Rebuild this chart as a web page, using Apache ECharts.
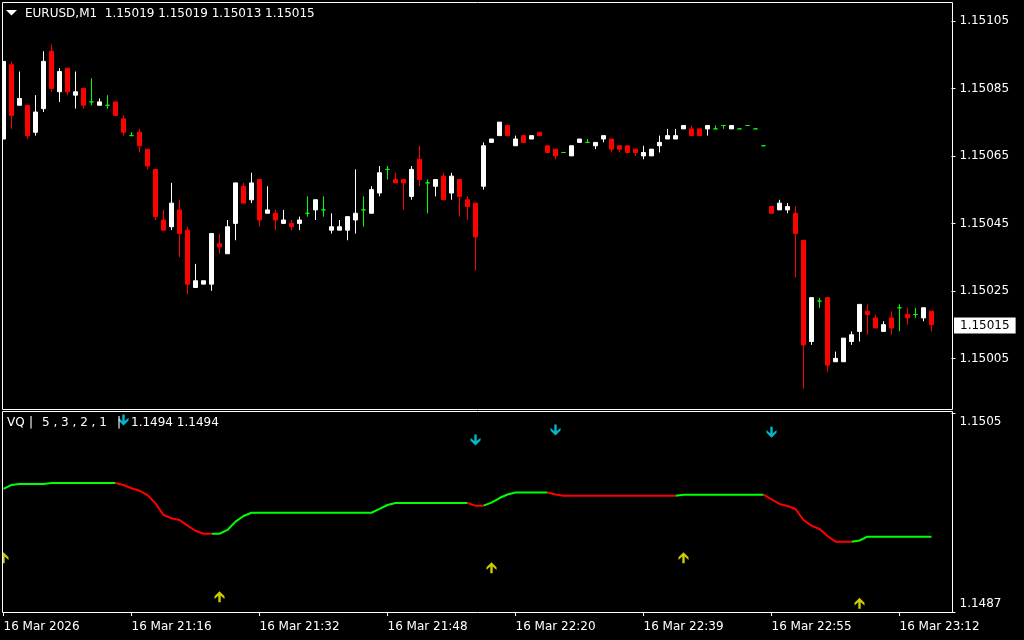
<!DOCTYPE html>
<html><head><meta charset="utf-8">
<script src="https://cdn.jsdelivr.net/npm/echarts@6/dist/echarts.min.js"></script>
<style>html,body{margin:0;padding:0;background:#000;}#c{width:1024px;height:640px;}</style>
</head><body><div id="c"></div>
<script>
const symbolName = 'EURUSD,M1';
const opens = [1.15070,1.15092,1.15080,1.15080,1.15072,1.15079,1.15096,1.15084,1.15091,1.15083,
 1.15085,1.15081,1.15080,1.15080,1.15081,1.15076,1.15071,1.15072,1.15067,1.15061,
 1.15046,1.15044,1.15049,1.15043,1.15026,1.15027,1.15027,1.15039,1.15036,1.15045,
 1.15056,1.15052,1.15058,1.15048,1.15048,1.15045,1.15045,1.15045,1.15048,1.15049,
 1.15049,1.15043,1.15043,1.15043,1.15046,1.15049,1.15048,1.15054,1.15061,1.15058,
 1.15058,1.15053,1.15064,1.15057,1.15056,1.15059,1.15054,1.15058,1.15052,1.15051,
 1.15056,1.15069,1.15071,1.15074,1.15068,1.15071,1.15070,1.15072,1.15068,1.15067,
 1.15066,1.15065,1.15069,1.15069,1.15068,1.15070,1.15070,1.15068,1.15068,1.15067,
 1.15065,1.15065,1.15068,1.15070,1.15070,1.15073,1.15073,1.15073,1.15073,1.15073,
 1.15074,1.15073,1.15073,1.15074,1.15073,1.15068,1.15050,1.15049,1.15049,1.15048,
 1.15040,1.15010,1.15022,1.15023,1.15004,1.15004,1.15010,1.15013,1.15019,1.15017,
 1.15013,1.15017,1.15020,1.15018,1.15018,1.15017,1.15019];
const highs = [1.15093,1.15093,1.15090,1.15080,1.15083,1.15096,1.15098,1.15091,1.15091,1.15090,
 1.15085,1.15088,1.15082,1.15083,1.15081,1.15077,1.15072,1.15073,1.15067,1.15061,
 1.15049,1.15057,1.15052,1.15044,1.15033,1.15028,1.15042,1.15042,1.15046,1.15057,
 1.15057,1.15060,1.15058,1.15056,1.15049,1.15049,1.15046,1.15047,1.15053,1.15052,
 1.15053,1.15048,1.15046,1.15047,1.15061,1.15053,1.15056,1.15062,1.15062,1.15060,
 1.15058,1.15062,1.15068,1.15058,1.15058,1.15060,1.15060,1.15058,1.15053,1.15051,
 1.15069,1.15070,1.15075,1.15074,1.15071,1.15071,1.15071,1.15072,1.15068,1.15067,
 1.15066,1.15068,1.15070,1.15070,1.15069,1.15071,1.15070,1.15068,1.15068,1.15067,
 1.15068,1.15067,1.15071,1.15073,1.15073,1.15074,1.15074,1.15073,1.15074,1.15074,
 1.15074,1.15074,1.15073,1.15074,1.15073,1.15068,1.15050,1.15052,1.15051,1.15050,
 1.15040,1.15023,1.15023,1.15023,1.15007,1.15011,1.15013,1.15021,1.15021,1.15018,
 1.15016,1.15019,1.15021,1.15020,1.15020,1.15020,1.15019];
const lows = [1.15070,1.15073,1.15080,1.15070,1.15071,1.15078,1.15084,1.15081,1.15083,1.15079,
 1.15079,1.15080,1.15080,1.15079,1.15077,1.15071,1.15071,1.15066,1.15061,1.15046,
 1.15043,1.15043,1.15035,1.15024,1.15026,1.15027,1.15025,1.15036,1.15036,1.15040,
 1.15051,1.15051,1.15044,1.15048,1.15043,1.15045,1.15043,1.15043,1.15047,1.15046,
 1.15047,1.15042,1.15043,1.15040,1.15042,1.15044,1.15048,1.15053,1.15058,1.15057,
 1.15049,1.15052,1.15056,1.15048,1.15053,1.15052,1.15052,1.15047,1.15046,1.15031,
 1.15055,1.15069,1.15071,1.15071,1.15068,1.15069,1.15070,1.15071,1.15066,1.15064,
 1.15066,1.15065,1.15069,1.15069,1.15067,1.15069,1.15066,1.15066,1.15066,1.15065,
 1.15064,1.15065,1.15066,1.15070,1.15070,1.15073,1.15071,1.15071,1.15071,1.15073,
 1.15073,1.15073,1.15073,1.15074,1.15073,1.15068,1.15048,1.15049,1.15048,1.15029,
 1.14996,1.15009,1.15020,1.15001,1.15004,1.15004,1.15009,1.15010,1.15012,1.15014,
 1.15013,1.15012,1.15013,1.15015,1.15017,1.15016,1.15013];
const closes = [1.15093,1.15077,1.15082,1.15071,1.15078,1.15093,1.15085,1.15090,1.15084,1.15084,
 1.15080,1.15081,1.15081,1.15080,1.15077,1.15072,1.15071,1.15068,1.15062,1.15047,
 1.15043,1.15051,1.15042,1.15027,1.15028,1.15028,1.15042,1.15038,1.15044,1.15057,
 1.15051,1.15057,1.15046,1.15049,1.15046,1.15046,1.15044,1.15046,1.15048,1.15052,
 1.15049,1.15044,1.15044,1.15047,1.15048,1.15049,1.15055,1.15060,1.15061,1.15057,
 1.15057,1.15061,1.15058,1.15057,1.15058,1.15052,1.15059,1.15053,1.15050,1.15041,
 1.15068,1.15070,1.15075,1.15071,1.15070,1.15069,1.15071,1.15071,1.15066,1.15065,
 1.15066,1.15068,1.15070,1.15069,1.15069,1.15071,1.15067,1.15067,1.15066,1.15066,
 1.15066,1.15067,1.15069,1.15071,1.15071,1.15074,1.15071,1.15071,1.15074,1.15073,
 1.15074,1.15074,1.15073,1.15074,1.15073,1.15068,1.15048,1.15051,1.15050,1.15042,
 1.15009,1.15023,1.15022,1.15003,1.15005,1.15011,1.15012,1.15021,1.15018,1.15014,
 1.15015,1.15014,1.15020,1.15017,1.15018,1.15020,1.15015];

const vqValues = [1.149813,1.149849,1.149858,1.149858,1.149858,1.149858,1.149867,1.149867,1.149867,1.149867,
 1.149867,1.149867,1.149867,1.149867,1.149867,1.149849,1.149819,1.149797,1.149758,1.149683,
 1.149577,1.149548,1.149532,1.149481,1.149435,1.149408,1.149408,1.149408,1.149442,1.149517,
 1.149568,1.149598,1.149598,1.149598,1.149598,1.149598,1.149598,1.149598,1.149598,1.149598,
 1.149598,1.149598,1.149598,1.149598,1.149598,1.149598,1.149598,1.149632,1.149668,1.149686,
 1.149686,1.149686,1.149686,1.149686,1.149686,1.149686,1.149686,1.149686,1.149686,1.149662,
 1.149662,1.149689,1.149731,1.149763,1.149781,1.149781,1.149781,1.149781,1.149781,1.149763,
 1.149752,1.149752,1.149752,1.149752,1.149752,1.149752,1.149752,1.149752,1.149752,1.149752,
 1.149752,1.149752,1.149752,1.149752,1.149752,1.149761,1.149761,1.149761,1.149761,1.149761,
 1.149761,1.149761,1.149761,1.149761,1.149761,1.149761,1.149718,1.149677,1.149659,1.149632,
 1.149532,1.149481,1.149451,1.149387,1.149336,1.149336,1.149336,1.149347,1.149381,1.149381,
 1.149381,1.149381,1.149381,1.149381,1.149381,1.149381,1.149381];
// 1 = rising (green), -1 = falling (red); colours the segment ending at that bar
const vqTrend = [1,1,1,1,1,1,1,1,1,1, 1,1,1,1,1,-1,-1,-1,-1,-1,
 -1,-1,-1,-1,-1,-1,-1,1,1,1, 1,1,1,1,1,1,1,1,1,1,
 1,1,1,1,1,1,1,1,1,1, 1,1,1,1,1,1,1,1,1,-1,
 -1,1,1,1,1,1,1,1,1,-1, -1,-1,-1,-1,-1,-1,-1,-1,-1,-1,
 -1,-1,-1,-1,-1,1,1,1,1,1, 1,1,1,1,1,1,-1,-1,-1,-1,
 -1,-1,-1,-1,-1,-1,-1,1,1,1, 1,1,1,1,1,1,1];
const upArrows = [[0,1.149191],[27,1.148838],[61,1.149101],[85,1.149191],[107,1.148779]];
const downArrows = [[15,1.150437],[59,1.150256],[69,1.150346],[96,1.150325]];
const priceTicks = [1.15005,1.15025,1.15045,1.15065,1.15085,1.15105];
const vqTicks = [1.1487,1.1505];
const timeLabels = ['16 Mar 2026','16 Mar 21:16','16 Mar 21:32','16 Mar 21:48','16 Mar 22:20','16 Mar 22:39','16 Mar 22:55','16 Mar 23:12'];
const vqName = 'VQ';
const vqParams = '5 , 3 , 2 , 1';

const FONT = '"DejaVu Sans", Verdana, sans-serif';
const N = opens.length;
const cats = [];
for (let i = 0; i < N + 2; i++) cats.push(String(i));
const candleData = opens.map((o, i) => {
  const item = { value: [o, closes[i], lows[i], highs[i]] };
  if (o === closes[i]) item.itemStyle = { color: '#00ff00', color0: '#00ff00', borderColor: '#00ff00', borderColor0: '#00ff00' };
  return item;
});
const vqGreen = vqValues.map((v, i) => (vqTrend[i] === 1 || vqTrend[i + 1] === 1) ? v : null);
const vqRed = vqValues.map((v, i) => (vqTrend[i] === -1 || vqTrend[i + 1] === -1) ? v : null);
const last = N - 1;
const lastClose = closes[last];
const titleText = symbolName + '  ' + [opens[last], highs[last], lows[last], closes[last]].map(v => v.toFixed(5)).join(' ');
const vqLast = vqValues[last].toFixed(4);

const UP_PATH = 'path://M5,0 L10,5 L10,7.8 L6.2,4.4 L6.2,11 L3.8,11 L3.8,4.4 L0,7.8 L0,5 Z';
const DOWN_PATH = 'path://M5,11 L10,6 L10,3.2 L6.2,6.6 L6.2,0 L3.8,0 L3.8,6.6 L0,3.2 L0,6 Z';

const baseGraphic = [
  { type: 'rect', z: 100, shape: { x: 0, y: 0, width: 2, height: 640 }, style: { fill: '#000000' } },
  { type: 'rect', z: 101, shape: { x: 2.5, y: 2.5, width: 950, height: 407 }, style: { fill: null, stroke: '#ffffff', lineWidth: 1 } },
  { type: 'rect', z: 101, shape: { x: 2.5, y: 411.5, width: 950, height: 201 }, style: { fill: null, stroke: '#ffffff', lineWidth: 1 } },
  { type: 'polygon', z: 101, shape: { points: [[6, 10], [17, 10], [11.5, 15.5]] }, style: { fill: '#ffffff' } },
  { type: 'text', z: 101, x: 25, y: 14, style: { text: titleText, fill: '#ffffff', font: '12px ' + FONT, verticalAlign: 'middle' } },
  { type: 'text', z: 101, x: 7, y: 423, style: { text: vqName, fill: '#ffffff', font: '12px ' + FONT, verticalAlign: 'middle' } },
  { type: 'text', z: 101, x: 29, y: 423, style: { text: '|', fill: '#ffffff', font: '12px ' + FONT, verticalAlign: 'middle' } },
  { type: 'text', z: 101, x: 42, y: 423, style: { text: vqParams, fill: '#ffffff', font: '12px ' + FONT, verticalAlign: 'middle' } },
  { type: 'text', z: 101, x: 117, y: 423, style: { text: '|', fill: '#ffffff', font: '12px ' + FONT, verticalAlign: 'middle' } },
  { type: 'text', z: 101, x: 131, y: 423, style: { text: vqLast + ' ' + vqLast, fill: '#ffffff', font: '12px ' + FONT, verticalAlign: 'middle' } }
];

const chart = echarts.init(document.getElementById('c'), null, { renderer: 'canvas' });
chart.setOption({
  backgroundColor: '#000000',
  animation: false,
  grid: [
    { left: -0.5, top: 4, width: 952, height: 405, show: false, containLabel: false, outerBoundsMode: 'none' },
    { left: -0.5, top: 413, width: 952, height: 199, show: false, containLabel: false, outerBoundsMode: 'none' }
  ],
  xAxis: [
    { type: 'category', gridIndex: 0, data: cats, boundaryGap: true, show: false },
    { type: 'category', gridIndex: 1, data: cats, boundaryGap: true,
      axisLine: { show: false },
      axisTick: { show: true, interval: 15, alignWithLabel: true, length: 4, lineStyle: { color: '#ffffff', width: 1 } },
      axisLabel: { show: true, interval: 15, align: 'left', margin: 9, color: '#ffffff', fontFamily: FONT, fontSize: 12,
        formatter: (v, idx) => (idx % 16 === 0 && timeLabels[idx / 16]) ? timeLabels[idx / 16] : '' },
      splitLine: { show: false } }
  ],
  yAxis: [
    { type: 'value', gridIndex: 0, position: 'right', min: 1.1499, max: 1.1511, scale: true,
      splitLine: { show: false }, axisLine: { show: false },
      axisTick: { show: true, length: 4, customValues: priceTicks, lineStyle: { color: '#ffffff' } },
      axisLabel: { show: true, customValues: priceTicks, margin: 8, color: '#ffffff', fontFamily: FONT, fontSize: 12,
        formatter: v => v.toFixed(5) } },
    { type: 'value', gridIndex: 1, position: 'right', min: 1.1487, max: 1.1505, scale: true,
      splitLine: { show: false }, axisLine: { show: false },
      axisTick: { show: true, length: 4, customValues: vqTicks, lineStyle: { color: '#ffffff' } },
      axisLabel: { show: true, customValues: vqTicks, margin: 8, color: '#ffffff', fontFamily: FONT, fontSize: 12,
        formatter: v => (v > 1.1496 ? '{t|' : '{b|') + v.toFixed(4) + '}',
        rich: { t: { padding: [18, 0, 0, 0], color: '#ffffff', fontFamily: FONT, fontSize: 12 },
                b: { padding: [0, 0, 16, 0], color: '#ffffff', fontFamily: FONT, fontSize: 12 } } } }
  ],
  series: [
    { type: 'candlestick', xAxisIndex: 0, yAxisIndex: 0, data: candleData, barWidth: 4,
      itemStyle: { color: '#ffffff', color0: '#ff0000', borderColor: '#ffffff', borderColor0: '#ff0000', borderWidth: 1 } },
    { type: 'line', xAxisIndex: 1, yAxisIndex: 1, data: vqGreen, showSymbol: false, connectNulls: false,
      lineStyle: { color: '#00ff00', width: 2 }, itemStyle: { color: '#00ff00' } },
    { type: 'line', xAxisIndex: 1, yAxisIndex: 1, data: vqRed, showSymbol: false, connectNulls: false,
      lineStyle: { color: '#ff0000', width: 2 }, itemStyle: { color: '#ff0000' } },
    { type: 'scatter', xAxisIndex: 1, yAxisIndex: 1, data: upArrows, symbol: UP_PATH, symbolSize: [10, 11],
      itemStyle: { color: '#ffff00' } },
    { type: 'scatter', xAxisIndex: 1, yAxisIndex: 1, data: downArrows, symbol: DOWN_PATH, symbolSize: [10, 11],
      itemStyle: { color: '#00e5ff' } }
  ],
  graphic: baseGraphic
});

// current-price tag on the right price scale, positioned through the axis scale
const tagY = chart.convertToPixel({ yAxisIndex: 0 }, lastClose);
chart.setOption({
  graphic: baseGraphic.concat([
    { type: 'text', z: 102, x: 954, y: Math.round(tagY) + 0.5,
      style: { text: lastClose.toFixed(5), fill: '#000000', font: '12px ' + FONT, verticalAlign: 'middle',
        backgroundColor: '#ffffff', padding: [2, 6, 2, 6] } }
  ])
});
</script>
</body></html>
